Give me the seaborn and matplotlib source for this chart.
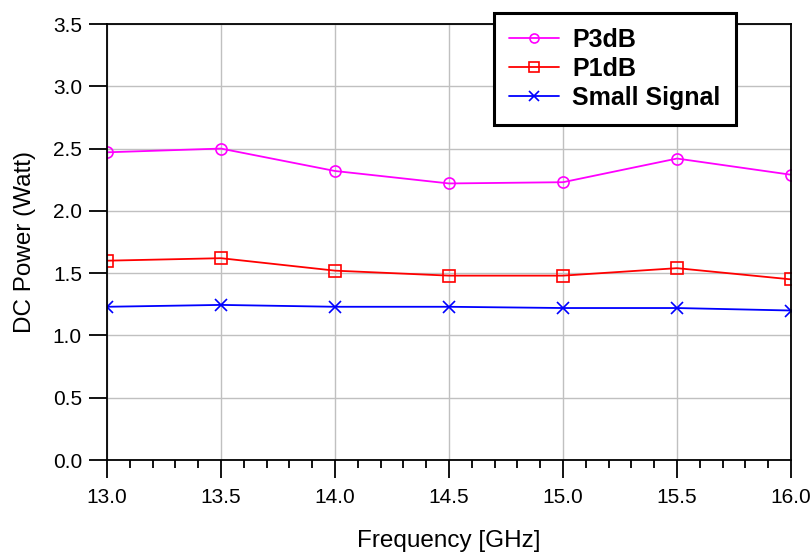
import pandas as pd
import matplotlib.pyplot as plt
from matplotlib.ticker import MultipleLocator
from matplotlib.lines import Line2D
import seaborn as sns

# podaci ocitani sa slike
freq = [13.0, 13.5, 14.0, 14.5, 15.0, 15.5, 16.0]
p3db = [2.47, 2.50, 2.32, 2.22, 2.23, 2.42, 2.29]
p1db = [1.60, 1.62, 1.52, 1.48, 1.48, 1.54, 1.45]
small_signal = [1.23, 1.245, 1.23, 1.23, 1.22, 1.22, 1.20]

series_names = ['P3dB', 'P1dB', 'Small Signal']
colors = {'P3dB': '#ff00ff', 'P1dB': '#ff0000', 'Small Signal': '#0000ff'}
mk = {'P3dB': 'o', 'P1dB': 's', 'Small Signal': 'x'}

df = pd.DataFrame({
    'freq': freq * 3,
    'power': p3db + p1db + small_signal,
    'series': [s for s in series_names for _ in freq],
})

sns.set_style('white')
plt.rcParams['font.family'] = ['Liberation Sans', 'DejaVu Sans']
plt.rcParams['text.color'] = 'black'
plt.rcParams['axes.labelcolor'] = 'black'
plt.rcParams['xtick.color'] = 'black'
plt.rcParams['ytick.color'] = 'black'
plt.rcParams['xtick.bottom'] = True
plt.rcParams['ytick.left'] = True

fig = plt.figure(figsize=(8.12, 5.52), dpi=100)
ax = fig.add_axes([107 / 812, 1 - 460 / 552, 684 / 812, 436 / 552])

for name in series_names:
    sns.lineplot(data=df[df['series'] == name], x='freq', y='power',
                 color=colors[name], marker=mk[name], markersize=8,
                 markerfacecolor='none', markeredgecolor=colors[name],
                 markeredgewidth=1.2, linewidth=1.3, ax=ax, legend=False)

ax.set_xlim(13.0, 16.0)
ax.set_ylim(0.0, 3.5)
ax.xaxis.set_major_locator(MultipleLocator(0.5))
ax.xaxis.set_minor_locator(MultipleLocator(0.1))
ax.yaxis.set_major_locator(MultipleLocator(0.5))
ax.xaxis.set_major_formatter(plt.FormatStrFormatter('%.1f'))
ax.yaxis.set_major_formatter(plt.FormatStrFormatter('%.1f'))

ax.grid(True, which='major', color='#c0c0c0', linewidth=1.0)
ax.set_axisbelow(True)
for sp in ax.spines.values():
    sp.set_color('black')
    sp.set_linewidth(1.3)
    sp.set_visible(True)

ax.tick_params(axis='both', which='major', direction='out', length=13,
               width=1.3, color='black', labelsize=15, labelcolor='black')
ax.tick_params(axis='x', which='major', pad=7, bottom=True)
ax.tick_params(axis='y', which='major', pad=5, left=True)
ax.tick_params(axis='x', which='minor', direction='out', length=6,
               width=1.3, color='black', bottom=True)

ax.set_xlabel('Frequency [GHz]', fontsize=17.5, labelpad=16.5)
ax.set_ylabel('DC Power (Watt)', fontsize=17.5, labelpad=12)

handles = [Line2D([], [], color=colors[n], marker=mk[n], markersize=6.5,
                  markerfacecolor='none', markeredgewidth=1.2, linewidth=1.3)
           for n in series_names]
leg = ax.legend(handles, series_names, loc='upper left',
                bbox_to_anchor=(0.5665, 1.025), frameon=True, fancybox=False,
                prop={'weight': 'bold', 'size': 18}, handlelength=2.0,
                borderpad=0.6, labelspacing=0.19, handletextpad=0.52,
                borderaxespad=0)
leg.get_frame().set_edgecolor('black')
leg.get_frame().set_linewidth(2.2)
leg.get_frame().set_facecolor('white')
leg.get_frame().set_alpha(1)
leg.set_zorder(10)

plt.savefig('out.png', dpi=100)
